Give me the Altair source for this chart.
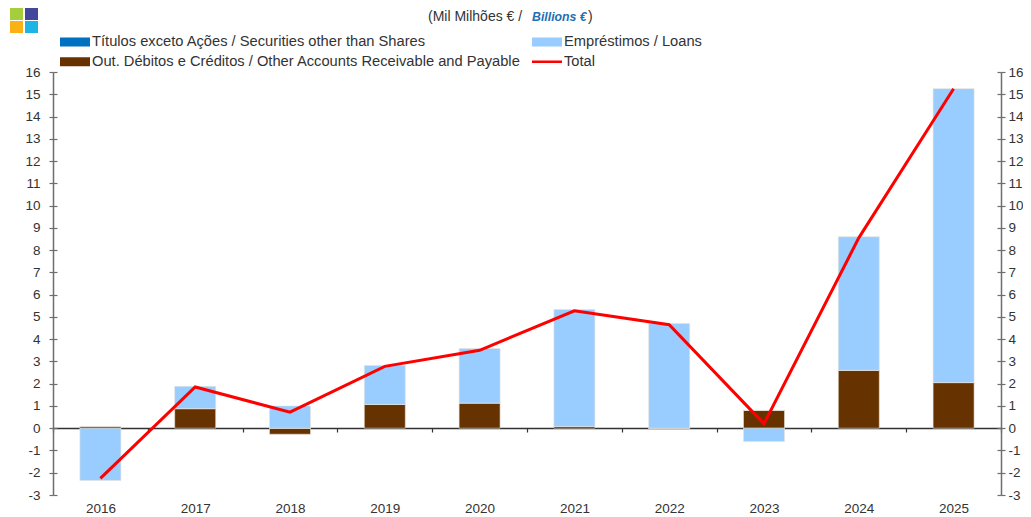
import altair as alt
import pandas as pd

years = ["2016", "2017", "2018", "2019", "2020", "2021", "2022", "2023", "2024", "2025"]
titulos = [0.0, 0.0, 0.0, 0.0, 0.0, 0.0, 0.0, 0.0, 0.0, 0.0]
outros = [0.08, 0.88, -0.27, 1.07, 1.13, 0.08, -0.05, 0.8, 2.6, 2.05]
emprestimos = [-2.35, 1.0, 1.0, 1.75, 2.45, 5.25, 4.7, -0.6, 6.0, 13.2]
total = [-2.25, 1.85, 0.72, 2.78, 3.5, 5.27, 4.65, 0.2, 8.55, 15.25]

S_T = "Títulos exceto Ações / Securities other than Shares"
S_L = "Empréstimos / Loans"
S_O = "Out. Débitos e Créditos / Other Accounts Receivable and Payable"
S_X = "Total"
series = [S_T, S_O, S_L, S_X]
colors = ["#0070C0", "#663300", "#99CCFF", "#FF0000"]
logo_colors = ["#A4CE3C", "#44489C", "#FBB116", "#1FB4E6"]
y_ticks = list(range(-3, 17))

W, H = 948, 423
FONT = "Liberation Sans"
TXT = "#333333"
AX = "#6e6e6e"
WIDE = "M-1,-0.3H1V0.3H-1Z"
THIN = "M-1,-0.09H1V0.09H-1Z"
shapes = [WIDE, WIDE, WIDE, THIN]

rows = []
for i, y in enumerate(years):
    rows.append(dict(year=y, s=S_O, v=outros[i], o=0))
    rows.append(dict(year=y, s=S_T, v=titulos[i], o=1))
    rows.append(dict(year=y, s=S_L, v=emprestimos[i], o=2))
bars_df = pd.DataFrame(rows)
line_df = pd.DataFrame(dict(year=years, s=S_X, v=total))
legend_df = pd.DataFrame(dict(year=[years[0]] * 4, s=series, v=[0] * 4))

xs = alt.Scale(domain=years, paddingInner=0, paddingOuter=0)
ys = alt.Scale(domain=[-3, 16], nice=False, zero=False)
cs = alt.Scale(domain=series, range=colors)
sh = alt.Scale(domain=series, range=shapes)

LEG = alt.Legend(
    orient="none", legendX=7, legendY=-40, columns=2, title=None, symbolSize=900, symbolOpacity=1,
    symbolStrokeWidth=0, labelFont=FONT, labelFontSize=14.7, labelColor=TXT, labelOffset=2,
    labelLimit=500, columnPadding=11, rowPadding=0, clipHeight=19.5, padding=0)


def yaxis(orient, offset, labels, pad):
    return alt.Axis(orient=orient, offset=offset, values=y_ticks, labels=labels, title=None, grid=False,
                    domain=labels, domainColor=AX, domainWidth=1.5, tickColor=AX, tickSize=4, tickWidth=1.2,
                    labelColor=TXT, labelFont=FONT, labelFontSize=13.5, labelPadding=pad,
                    labelExpr="replace(datum.label, '−', '-')")


def xaxis(offset, base):
    return alt.Axis(orient="bottom", offset=offset, title=None, grid=False, labels=not base, labelAngle=0,
                    domain=base, ticks=base, domainColor="#333333", domainWidth=1.3, tickColor="#333333",
                    tickSize=4, tickWidth=1.2, tickBand="extent", labelColor=TXT, labelFont=FONT,
                    labelFontSize=13.5, labelPadding=6)


bars = alt.Chart(bars_df).mark_bar(size=41, stroke="#e8e2da", strokeWidth=0.6).encode(
    x=alt.X("year:N", scale=xs, axis=xaxis(0, False)),
    y=alt.Y("v:Q", stack="zero", scale=ys, axis=yaxis("left", 0, True, 9)),
    color=alt.Color("s:N", scale=cs, legend=LEG),
    order=alt.Order("o:Q"),
)
baseline = alt.Chart(line_df).mark_line(opacity=0).encode(
    x=alt.X("year:N", scale=xs, axis=xaxis(-67, True)),
    y=alt.Y("v:Q", scale=ys, axis=yaxis("right", 0, True, 3)),
)
inner_l = alt.Chart(line_df).mark_line(opacity=0).encode(
    x=alt.X("year:N", scale=xs, axis=None),
    y=alt.Y("v:Q", scale=ys, axis=yaxis("right", -W, False, 3)),
)
inner_r = alt.Chart(line_df).mark_line(opacity=0).encode(
    x=alt.X("year:N", scale=xs, axis=None),
    y=alt.Y("v:Q", scale=ys, axis=yaxis("left", -W, False, 3)),
)
line = alt.Chart(line_df).mark_line(strokeWidth=3).encode(
    x=alt.X("year:N", scale=xs, axis=None),
    y=alt.Y("v:Q", scale=ys, axis=None),
    color=alt.Color("s:N", scale=cs, legend=LEG),
)
legend_layer = alt.Chart(legend_df).mark_point(filled=True, opacity=0).encode(
    x=alt.X("year:N", scale=xs, axis=None),
    y=alt.Y("v:Q", scale=ys, axis=None),
    color=alt.Color("s:N", scale=cs, legend=LEG),
    shape=alt.Shape("s:N", scale=sh, legend=LEG),
)

layers = [bars, baseline, inner_l, inner_r, line, legend_layer]

logo_pos = [(-43, -64), (-28, -64), (-43, -51), (-28, -51)]
for c, (px, py) in zip(logo_colors, logo_pos):
    layers.append(
        alt.Chart(pd.DataFrame({"c": [c]})).mark_rect(color=c).encode(
            x=alt.value(px), x2=alt.value(px + 13), y=alt.value(py), y2=alt.value(py + 12))
    )


def label(text, px, size, **kw):
    return alt.Chart(pd.DataFrame({"t": [text]})).mark_text(
        align="left", baseline="middle", font=FONT, fontSize=size, **kw
    ).encode(text="t:N", x=alt.value(px), y=alt.value(-55))


layers += [
    label("(Mil Milhões € / ", 375, 14, color=TXT),
    label("Billions €", 479, 12.3, color="#1F6FB5", fontStyle="italic", fontWeight="bold"),
    label(")", 535, 14, color=TXT),
]

chart = alt.layer(*layers).resolve_axis(y="independent", x="independent").resolve_scale(
    y="shared", x="shared"
).properties(
    width=W, height=H,
    autosize=alt.AutoSizeParams(type="none"),
    padding={"left": 45, "top": 64, "right": 22, "bottom": 20},
).configure_view(stroke=None)

chart.save("out.html", embed_options={"renderer": "svg", "actions": False})
